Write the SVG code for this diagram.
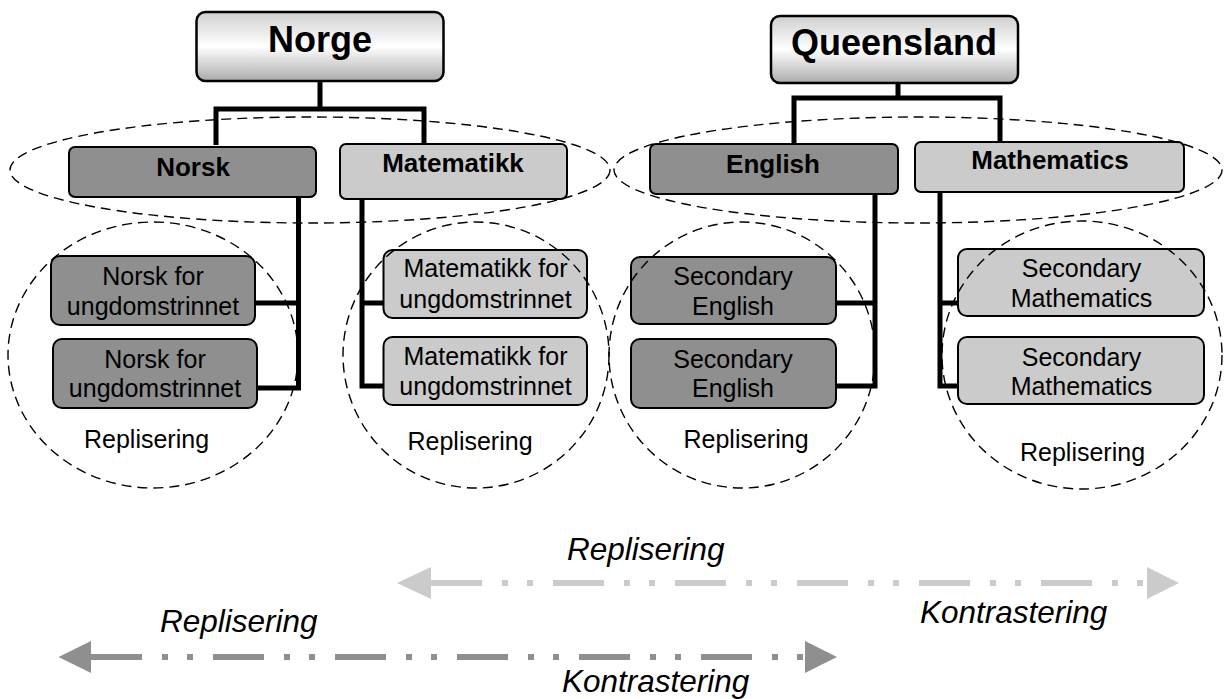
<svg xmlns="http://www.w3.org/2000/svg" width="1224" height="699" viewBox="0 0 1224 699">
<defs>
<linearGradient id="tg" x1="0" y1="0" x2="0" y2="1">
<stop offset="0" stop-color="#cfcfcf"/>
<stop offset="0.5" stop-color="#ffffff"/>
<stop offset="1" stop-color="#ababab"/>
</linearGradient>
</defs>
<style>
text{font-family:"Liberation Sans",Arial,sans-serif;fill:#000;text-anchor:middle}
.title{font-size:36px;font-weight:bold}
.subj{font-size:26px;font-weight:bold}
.leaf{font-size:25px}
.lab{font-size:25px}
.it{font-size:31.5px;font-style:italic;text-anchor:start}
.tbox{fill:url(#tg);stroke:#000;stroke-width:2.5}
.dark{fill:#8f8f8f;stroke:#000;stroke-width:2}
.light{fill:#cbcbcb;stroke:#000;stroke-width:2}
.con{fill:none;stroke:#000;stroke-width:5}
.ring{fill:none;stroke:#000;stroke-width:1.4;stroke-dasharray:10 6}
</style>
<rect width="1224" height="699" fill="#fff"/>

<g id="connectors">
<path class="con" d="M320,81 V109 M216,145 V109 H424 V145"/>
<path class="con" d="M898,83 V98 M794,145 V98 H1000 V142"/>
<path class="con" d="M298.5,197 V390.5 M255,303 H301 M257,388 H301"/>
<path class="con" d="M362,199 V388 M359.5,303 H384 M359.5,386 H384"/>
<path class="con" d="M875,194 V388.5 M836,303 H877.5 M836,386 H877.5"/>
<path class="con" d="M940,192 V388.5 M937.5,303 H958 M937.5,386 H958"/>
</g>

<g id="norge">
<rect class="tbox" x="196.5" y="12" width="247" height="69" rx="9"/>
<text class="title" x="320" y="52">Norge</text>
</g>
<g id="queensland">
<rect class="tbox" x="771" y="16" width="247" height="67" rx="9"/>
<text class="title" x="894" y="55">Queensland</text>
</g>

<g id="norsk">
<rect class="dark" x="69" y="147" width="247" height="50" rx="6"/>
<text class="subj" x="193" y="176">Norsk</text>
</g>
<g id="matematikk">
<rect class="light" x="340" y="144" width="227" height="55" rx="6"/>
<text class="subj" x="453" y="172">Matematikk</text>
</g>
<g id="english">
<rect class="dark" x="650" y="144" width="248" height="50" rx="6"/>
<text class="subj" x="773" y="173">English</text>
</g>
<g id="mathematics">
<rect class="light" x="915" y="142" width="269" height="50" rx="6"/>
<text class="subj" x="1050" y="169">Mathematics</text>
</g>

<g id="norsk1">
<rect class="dark" x="51" y="256" width="204" height="69" rx="9"/>
<text class="leaf" x="153" y="285">Norsk for</text>
<text class="leaf" x="153" y="315">ungdomstrinnet</text>
</g>
<g id="norsk2">
<rect class="dark" x="53" y="339" width="204" height="69" rx="9"/>
<text class="leaf" x="155" y="368">Norsk for</text>
<text class="leaf" x="155" y="397">ungdomstrinnet</text>
</g>
<g id="mat1">
<rect class="light" x="383.5" y="250" width="203.5" height="68" rx="9"/>
<text class="leaf" x="485.5" y="277">Matematikk for</text>
<text class="leaf" x="485.5" y="308">ungdomstrinnet</text>
</g>
<g id="mat2">
<rect class="light" x="383.5" y="337" width="203.5" height="68" rx="9"/>
<text class="leaf" x="485.5" y="365">Matematikk for</text>
<text class="leaf" x="485.5" y="395">ungdomstrinnet</text>
</g>
<g id="eng1">
<rect class="dark" x="631" y="257" width="205" height="67" rx="9"/>
<text class="leaf" x="733" y="285">Secondary</text>
<text class="leaf" x="733" y="315">English</text>
</g>
<g id="eng2">
<rect class="dark" x="631" y="339" width="205" height="69" rx="9"/>
<text class="leaf" x="733" y="368">Secondary</text>
<text class="leaf" x="733" y="397">English</text>
</g>
<g id="math1">
<rect class="light" x="958" y="249" width="246" height="67" rx="9"/>
<text class="leaf" x="1081.5" y="277">Secondary</text>
<text class="leaf" x="1081.5" y="307">Mathematics</text>
</g>
<g id="math2">
<rect class="light" x="958" y="337" width="246" height="67" rx="9"/>
<text class="leaf" x="1081.5" y="366">Secondary</text>
<text class="leaf" x="1081.5" y="395">Mathematics</text>
</g>

<g id="groupings">
<ellipse class="ring" cx="310" cy="170" rx="300" ry="53"/>
<ellipse class="ring" cx="918" cy="170" rx="304" ry="53"/>
<ellipse class="ring" cx="153" cy="355" rx="145" ry="133"/>
<ellipse class="ring" cx="476" cy="355" rx="133" ry="133"/>
<ellipse class="ring" cx="742" cy="355" rx="133" ry="133"/>
<ellipse class="ring" cx="1082" cy="355" rx="140" ry="134"/>
<text class="lab" x="146.5" y="448">Replisering</text>
<text class="lab" x="470" y="450">Replisering</text>
<text class="lab" x="746" y="448">Replisering</text>
<text class="lab" x="1082.5" y="461">Replisering</text>
</g>

<g id="arrow-upper">
<line x1="431" y1="583" x2="1147" y2="583" stroke="#cbcbcb" stroke-width="6" stroke-dasharray="51 20 6 19 6 20"/>
<polygon points="397,583 431,567 431,599" fill="#cbcbcb"/>
<polygon points="1179,583 1147,567 1147,599" fill="#cbcbcb"/>
<text class="it" x="567" y="560">Replisering</text>
<text class="it" x="920" y="623">Kontrastering</text>
</g>
<g id="arrow-lower">
<line x1="91" y1="657" x2="805" y2="657" stroke="#8f8f8f" stroke-width="6" stroke-dasharray="51 20 6 19 6 20"/>
<polygon points="58.5,657 91,641 91,673" fill="#8f8f8f"/>
<polygon points="837,657 805,641 805,673" fill="#8f8f8f"/>
<text class="it" x="160" y="632">Replisering</text>
<text class="it" x="562" y="692">Kontrastering</text>
</g>
</svg>
